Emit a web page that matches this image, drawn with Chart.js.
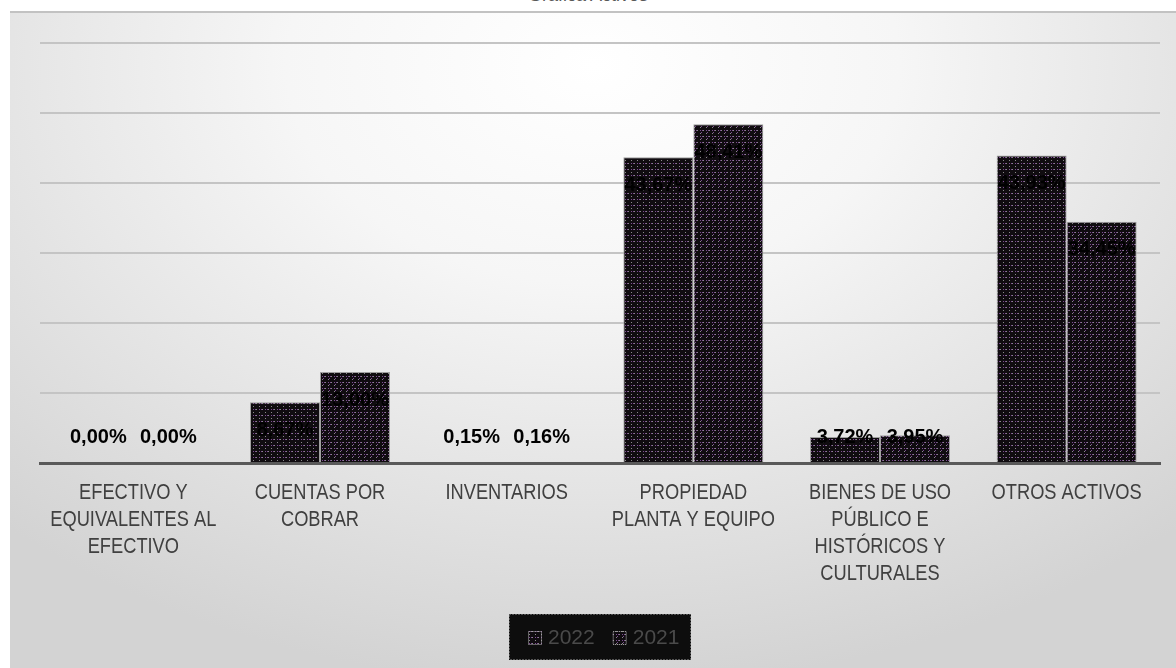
<!DOCTYPE html>
<html>
<head>
<meta charset="utf-8">
<script src="https://cdn.jsdelivr.net/npm/chart.js@4.4.0/dist/chart.umd.min.js"></script>
<style>
  html, body { margin: 0; padding: 0; background: #fff; overflow: hidden; }
  body { width: 1176px; height: 668px; position: relative; }
  .title {
    position: absolute; left: 0; width: 1176px; top: -15px;
    text-align: center; font: 18px 'Liberation Sans', Arial, sans-serif; color: #595959;
  }
  .frame {
    position: absolute; left: 10px; top: 11px; width: 1166px; height: 657px;
    border-top: 2px solid #c2c2c2; box-sizing: border-box;
    background: radial-gradient(ellipse 75% 95% at 50% 8%, #ffffff 0%, #f6f6f6 35%, #d3d3d3 100%);
  }
</style>
</head>
<body>
<div class="title">Gráfica Activos</div>
<div class="frame"><canvas id="myChart"></canvas></div>
<script>
var categories = [
  ["EFECTIVO Y", "EQUIVALENTES AL", "EFECTIVO"],
  ["CUENTAS POR", "COBRAR"],
  "INVENTARIOS",
  ["PROPIEDAD", "PLANTA Y EQUIPO"],
  ["BIENES DE USO", "PÚBLICO E", "HISTÓRICOS Y", "CULTURALES"],
  "OTROS ACTIVOS"
];
var seriesNames = ["2022", "2021"];
var values2022 = [0.00, 8.67, 0.15, 43.67, 3.72, 43.93];
var values2021 = [0.00, 13.00, 0.16, 48.41, 3.95, 34.45];
var yTicks = [0, 10, 20, 30, 40, 50, 60];

// dark dotted fill like the original
function makePattern(shift) {
  var c = document.createElement('canvas');
  c.width = 6; c.height = 6;
  var g = c.getContext('2d');
  g.fillStyle = '#100c10';
  g.fillRect(0, 0, 6, 6);
  g.fillStyle = '#8a8a8a';
  g.fillRect(0, 0, 1, 1); g.fillRect(3, 3, 1, 1);
  g.fillStyle = '#7c4a92';
  var p = shift ? 0 : 3;
  g.fillRect(p, 3 - p, 1, 1);
  g.fillRect(p + 2, 3 - p, 1, 1);
  g.fillRect(p + 1, 2 - p + (shift ? 3 : 0), 1, 1);
  return g.createPattern(c, 'repeat');
}
var fill2022 = makePattern(false);
var fill2021 = makePattern(true);

function pct(v) {
  return v.toFixed(2).replace('.', ',') + '%';
}

const barLabels = {
  id: 'barLabels',
  afterDatasetsDraw(chart) {
    const ctx = chart.ctx;
    const base = chart.scales.y.getPixelForValue(0);
    ctx.save();
    ctx.font = 'bold 20px "Liberation Sans", Arial, sans-serif';
    ctx.fillStyle = '#000';
    ctx.textAlign = 'center';
    ctx.textBaseline = 'middle';
    chart.data.datasets.forEach(function (ds, i) {
      chart.getDatasetMeta(i).data.forEach(function (bar, j) {
        var y = Math.min(bar.y + 28, base - 26);
        ctx.fillText(pct(ds.data[j]), bar.x, y);
      });
    });
    ctx.restore();
  }
};

// narrow category labels (Arial Narrow look)
const narrowTicks = {
  id: 'narrowTicks',
  afterDraw(chart) {
    const ctx = chart.ctx;
    const xs = chart.scales.x;
    const base = chart.chartArea.bottom;
    ctx.save();
    ctx.font = '22px "Liberation Sans", Arial, sans-serif';
    ctx.fillStyle = '#404040';
    ctx.textAlign = 'center';
    ctx.textBaseline = 'middle';
    chart.data.labels.forEach(function (lab, i) {
      var lines = Array.isArray(lab) ? lab : [lab];
      var x = xs.getPixelForTick(i);
      lines.forEach(function (t, k) {
        ctx.save();
        ctx.translate(x, base + 30 + k * 27);
        ctx.scale(0.83, 1);
        ctx.fillText(t, 0, 0);
        ctx.restore();
      });
    });
    ctx.restore();
  }
};

const boxLegend = {
  id: 'boxLegend',
  afterDraw(chart) {
    const ctx = chart.ctx;
    const area = chart.chartArea;
    const cx = (area.left + area.right) / 2;
    const w = 182, h = 46, top = 601;
    const left = cx - w / 2;
    ctx.save();
    ctx.fillStyle = '#0d0d0d';
    ctx.fillRect(left, top, w, h);
    ctx.strokeStyle = '#9a9a9a';
    ctx.setLineDash([1, 2]);
    ctx.lineWidth = 1;
    ctx.strokeRect(left + 0.5, top + 0.5, w - 1, h - 1);
    ctx.setLineDash([]);
    ctx.font = '21px "Liberation Sans", Arial, sans-serif';
    ctx.textBaseline = 'middle';
    var x = left + 19;
    var my = top + h / 2 + 1;
    chart.data.datasets.forEach(function (ds) {
      ctx.fillStyle = ds.backgroundColor;
      ctx.fillRect(x, my - 7, 14, 14);
      ctx.strokeStyle = '#bbbbbb';
      ctx.setLineDash([1, 1]);
      ctx.strokeRect(x + 0.5, my - 6.5, 13, 13);
      ctx.setLineDash([]);
      ctx.fillStyle = '#4a4a4a';
      ctx.fillText(ds.label, x + 20, my);
      x += 20 + ctx.measureText(ds.label).width + 18;
    });
    ctx.restore();
  }
};

new Chart("myChart", {
  type: "bar",
  data: {
    labels: categories,
    datasets: [{
      label: seriesNames[0],
      data: values2022,
      backgroundColor: fill2022,
      borderColor: '#a0a0a0',
      borderWidth: 1
    }, {
      label: seriesNames[1],
      data: values2021,
      backgroundColor: fill2021,
      borderColor: '#a0a0a0',
      borderWidth: 1
    }]
  },
  options: {
    responsive: true,
    maintainAspectRatio: false,
    animation: false,
    layout: { padding: { left: 0, right: 16, top: 30, bottom: 0 } },
    datasets: { bar: { categoryPercentage: 0.75, barPercentage: 1.0 } },
    plugins: {
      legend: { display: false },
      title: { display: false },
      tooltip: { enabled: false }
    },
    scales: {
      x: {
        grid: { display: false, drawTicks: false },
        border: { display: true, color: '#595959', width: 3, z: 1 },
        ticks: { display: false },
        afterFit: function (s) { s.height = 205; }
      },
      y: {
        min: 0,
        max: 60,
        afterBuildTicks: function (s) { s.ticks = yTicks.map(function (v) { return { value: v }; }); },
        grid: { color: '#c4c4c4', lineWidth: 2, drawTicks: false },
        border: { display: false },
        ticks: { display: false },
        afterFit: function (s) { s.width = 30; }
      }
    }
  },
  plugins: [barLabels, narrowTicks, boxLegend]
});
</script>
</body>
</html>
